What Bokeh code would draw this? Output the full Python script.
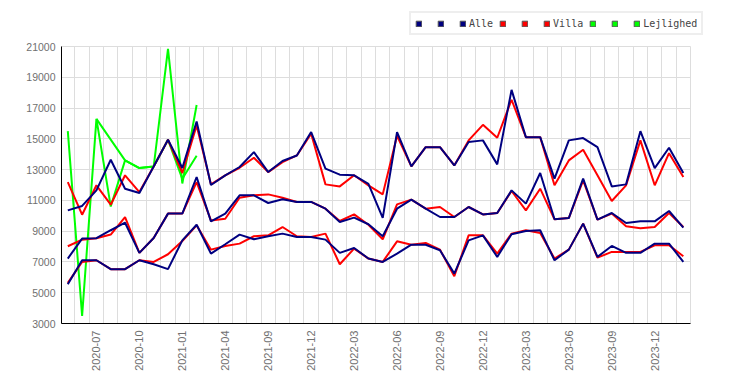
import math
from bokeh.plotting import figure
from bokeh.layouts import column
from bokeh.models import FixedTicker, Legend, LegendItem, Range1d
from bokeh.embed import file_html
from bokeh.resources import INLINE
from bokeh.core.properties import value

months = ["2020-05", "2020-06", "2020-07", "2020-08", "2020-09", "2020-10", "2020-11", "2020-12",
          "2021-01", "2021-02", "2021-03", "2021-04", "2021-07", "2021-08", "2021-09", "2021-10",
          "2021-11", "2021-12", "2022-01", "2022-02", "2022-03", "2022-04", "2022-05", "2022-06",
          "2022-07", "2022-08", "2022-09", "2022-10", "2022-11", "2022-12", "2023-01", "2023-02",
          "2023-03", "2023-04", "2023-05", "2023-06", "2023-07", "2023-08", "2023-09", "2023-10",
          "2023-11", "2023-12", "2024-01", "2024-02"]

alle_high = [10350, 10640, 11650, 13640, 11760, 11480, 13200, 14940, 13100, 16130, 12000, 12630,
             13170, 14140, 12840, 13560, 13920, 15440, 13060, 12670, 12630, 12080, 9860, 15440,
             13210, 14460, 14460, 13270, 14790, 14900, 13340, 18180, 15110, 15110, 12410, 14900,
             15050, 14460, 11910, 12040, 15500, 13100, 14420, 12780]
alle_mid = [7220, 8520, 8540, 9060, 9550, 7590, 8560, 10140, 10140, 12520, 9640, 10140,
            11330, 11330, 10830, 11070, 10900, 10900, 10460, 9600, 9880, 9450, 8670, 10460,
            11050, 10460, 9920, 9920, 10570, 10090, 10180, 11650, 10790, 12780, 9770, 9850,
            12410, 9750, 10180, 9530, 9640, 9640, 10310, 9230]
alle_low = [5550, 7110, 7110, 6530, 6530, 7110, 6850, 6530, 8400, 9420, 7540, 8150,
            8775, 8470, 8670, 8840, 8620, 8620, 8450, 7590, 7910, 7220, 7000, 7540,
            8120, 8120, 7760, 6240, 8400, 8730, 7330, 8800, 9010, 9060, 7110, 7800,
            9490, 7330, 8040, 7590, 7590, 8190, 8190, 7000]

villa_high = [12190, 10070, 11980, 10720, 12630, 11540, 13200, 14940, 12780, 15870, 12040, 12630,
              13120, 13770, 12840, 13490, 13920, 15330, 12040, 11910, 12630, 11980, 11390, 15200,
              13210, 14460, 14460, 13270, 14900, 15910, 15070, 17540, 15110, 15110, 11980, 13600,
              14290, 12630, 10960, 11980, 14900, 11980, 14070, 12520]
villa_mid = [8020, 8450, 8540, 8780, 9920, 7590, 8560, 10140, 10140, 12190, 9700, 9810,
             11170, 11330, 11390, 11170, 10900, 10900, 10460, 9660, 10090, 9420, 8470, 10740,
             11050, 10460, 10570, 9920, 10570, 10090, 10180, 11610, 10350, 11760, 9770, 9850,
             12300, 9750, 10140, 9320, 9190, 9270, 10180, 9270]
villa_low = [5640, 7000, 7110, 6530, 6530, 7110, 7000, 7500, 8360, 9380, 7800, 8040,
             8190, 8670, 8730, 9270, 8670, 8620, 8840, 6850, 7870, 7220, 7000, 8340,
             8120, 8230, 7800, 6070, 8730, 8730, 7540, 8840, 9060, 8880, 7220, 7800,
             9490, 7280, 7650, 7650, 7650, 8080, 8080, 7370]

lejl_a_idx = [0, 1, 2, 3, 4, 5, 6, 7, 8, 9]
lejl_a = [15500, 3500, 16300, 10600, 13600, 13100, 13200, 20850, 12100, 17200]
lejl_b_idx = [2, 4, 5, 6, 7, 8, 9]
lejl_b = [16300, 13600, 13100, 13200, 14940, 12400, 13900]

y_ticks = [3000, 5000, 7000, 9000, 11000, 13000, 15000, 17000, 19000, 21000]
x_label_idx = list(range(2, 44, 3))

NAVY = "#000080"
RED = "#ff0000"
GREEN = "#00ff00"

idx = list(range(len(months)))

# ---- legend strip ----
lf = figure(width=735, height=38, output_backend="svg", toolbar_location=None,
            x_range=Range1d(0, 1), y_range=Range1d(0, 1),
            x_axis_location=None, y_axis_location=None, min_border=0)
lf.title = None
lf.frame_align = False
lf.grid.visible = False
lf.outline_line_color = None

items = []
for color, name in ((NAVY, "Alle"), (RED, "Villa"), (GREEN, "Lejlighed")):
    for k in range(3):
        # legend-only swatch renderer (its single box lies outside the visible range)
        r = lf.quad(left=[-3], right=[-2], top=[-2], bottom=[-3], fill_color=color,
                    line_color="#555555", line_width=1)
        items.append(LegendItem(label=value(name if k == 2 else ""), renderers=[r]))

legend = Legend(items=items, orientation="horizontal", location=(409, 3),
                glyph_width=7, glyph_height=7, label_standoff=3, label_width=6, label_height=12,
                spacing=6, padding=4, margin=0,
                border_line_color="#dddddd", border_line_width=2,
                background_fill_color="white", background_fill_alpha=1,
                label_text_font="DejaVu Sans Mono", label_text_font_size="10px",
                label_text_color="#444444")
lf.add_layout(legend)

# ---- main chart ----
p = figure(width=735, height=342, output_backend="svg", toolbar_location=None,
           x_range=Range1d(-0.44, 43.5), y_range=Range1d(3000, 21000),
           min_border_left=61, min_border_right=45, min_border_top=8, min_border_bottom=57)
p.title = None
p.frame_align = False
p.background_fill_color = "white"
p.border_fill_color = "white"
p.outline_line_color = "#dddddd"

p.xaxis.ticker = FixedTicker(ticks=x_label_idx)
p.xaxis.major_label_overrides = {i: months[i] for i in x_label_idx}
p.xaxis.major_label_orientation = math.pi / 2
p.yaxis.ticker = FixedTicker(ticks=y_ticks)
for ax in (p.xaxis, p.yaxis):
    ax.axis_line_color = "black"
    ax.axis_line_width = 1
    ax.major_tick_line_color = None
    ax.minor_tick_line_color = None
    ax.major_tick_out = 0
    ax.major_tick_in = 0
    ax.major_label_text_color = "#707070"
    ax.major_label_text_font = "Liberation Sans"
p.xaxis.major_label_text_font_size = "11px"
p.yaxis.major_label_text_font_size = "10.5px"
p.xaxis.major_label_standoff = 7
p.yaxis.major_label_standoff = 6

p.xgrid.ticker = FixedTicker(ticks=[i + 0.5 for i in idx])
p.ygrid.ticker = FixedTicker(ticks=y_ticks)
for g in (p.xgrid, p.ygrid):
    g.grid_line_color = "#dddddd"
    g.grid_line_width = 1

lw = 2
p.line(lejl_b_idx, lejl_b, line_color=GREEN, line_width=lw)
p.line(lejl_a_idx, lejl_a, line_color=GREEN, line_width=lw)
for ys in (villa_high, villa_mid, villa_low):
    p.line(idx, ys, line_color=RED, line_width=lw)
for ys in (alle_high, alle_mid, alle_low):
    p.line(idx, ys, line_color=NAVY, line_width=lw)

layout = column(lf, p, spacing=0)
open("out.html", "w").write(file_html(layout, INLINE))
